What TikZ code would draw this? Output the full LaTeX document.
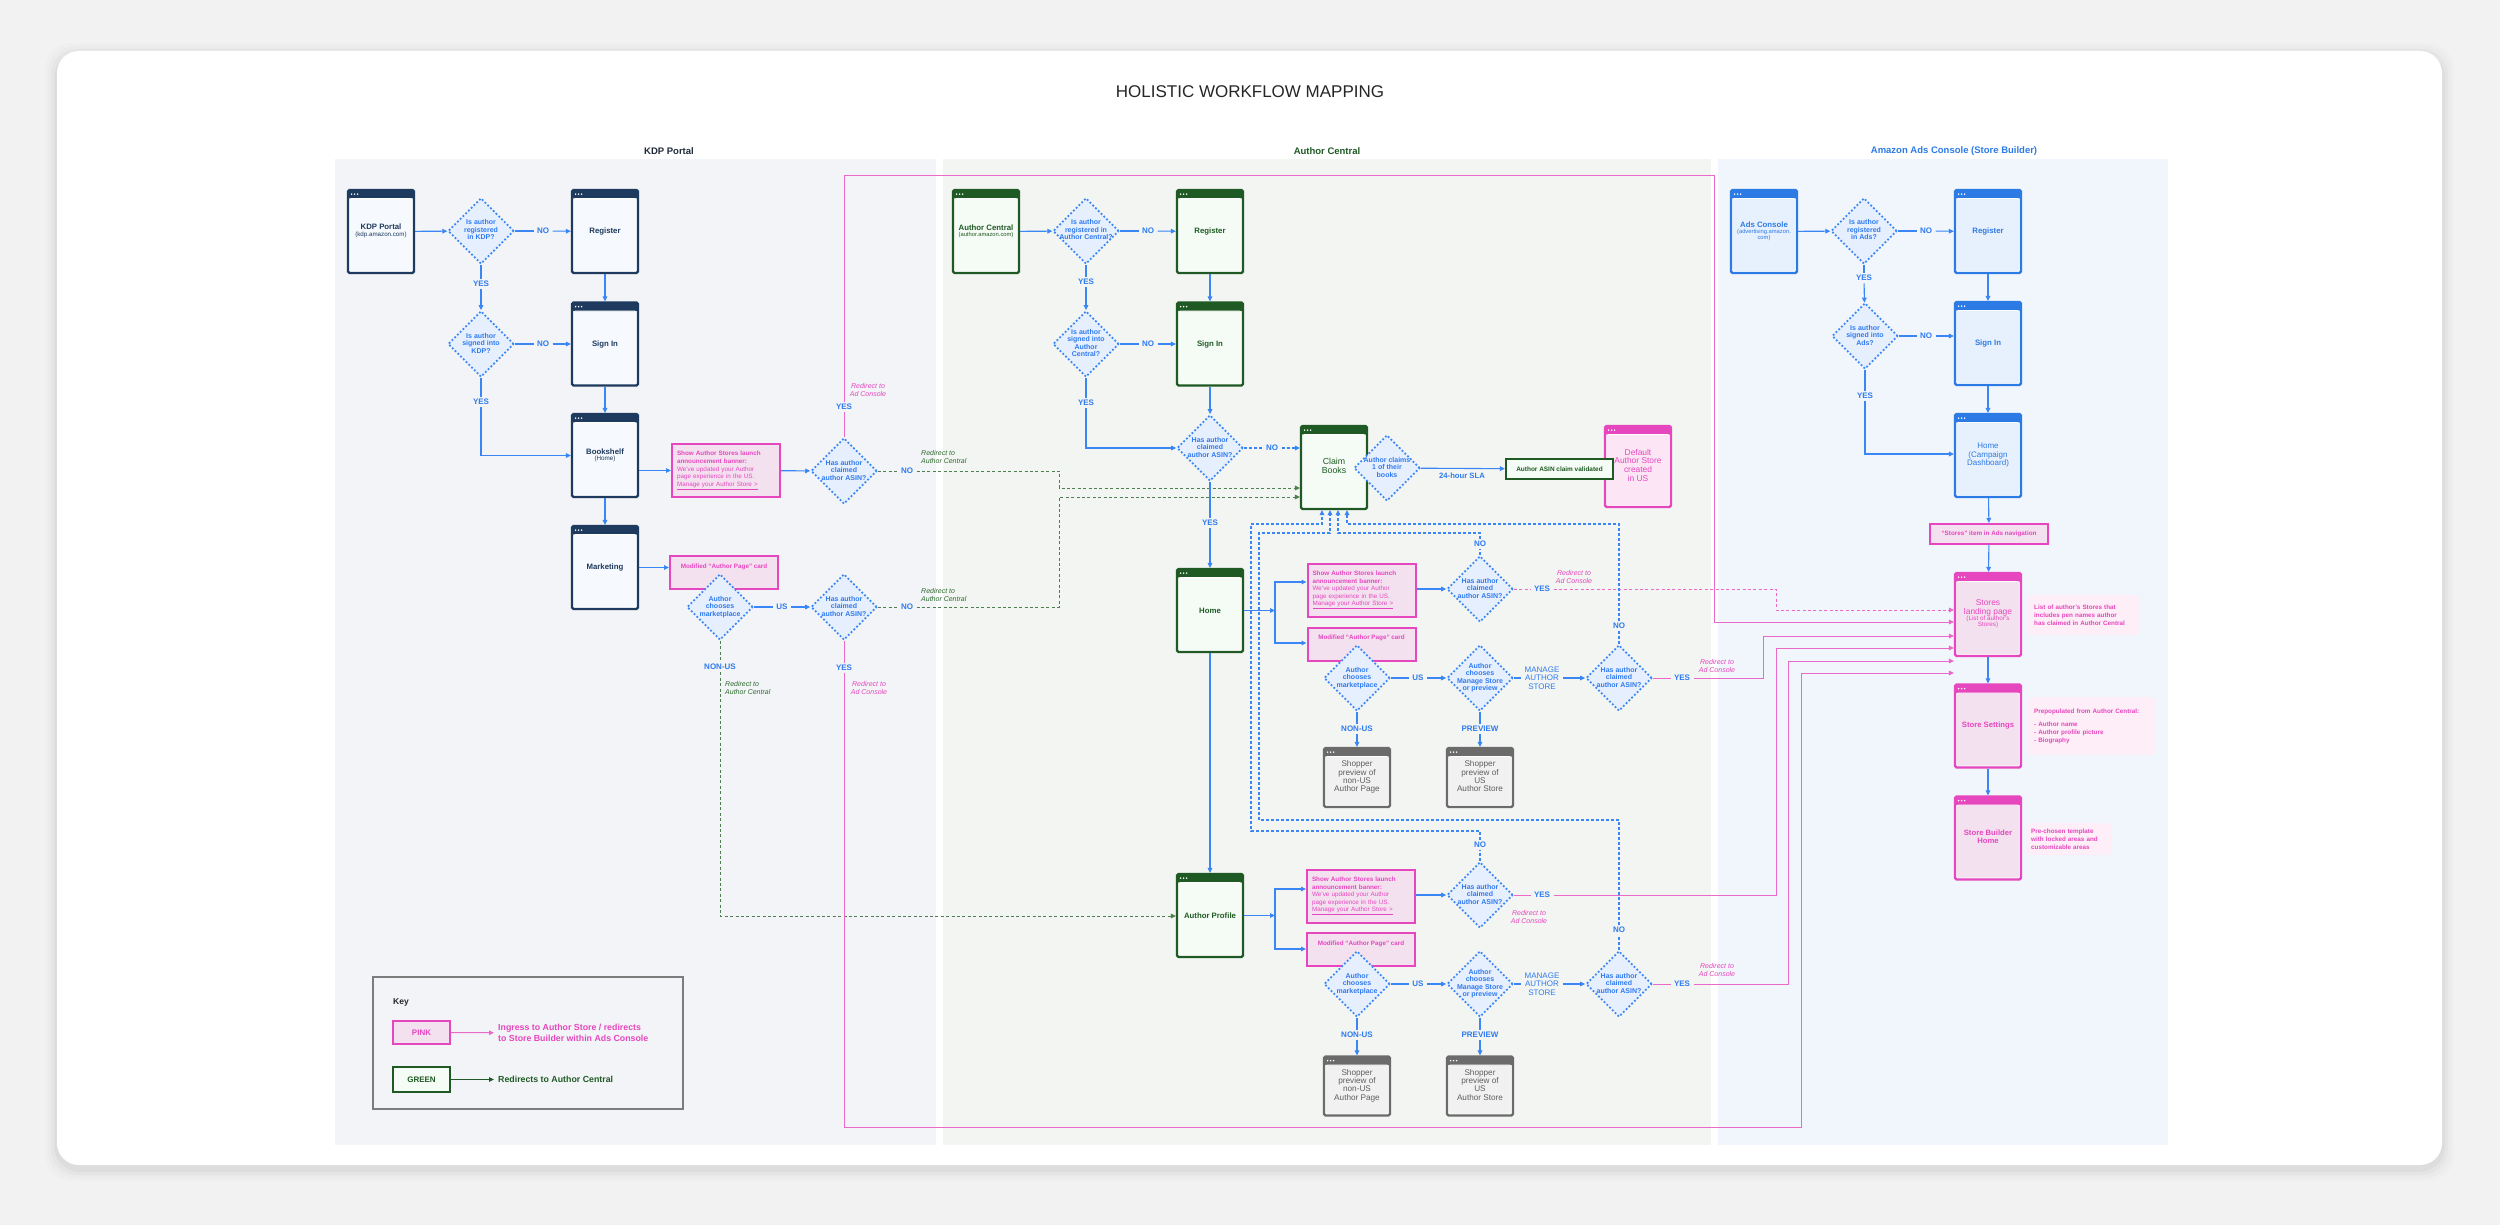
\documentclass[tikz,border=0pt]{standalone}
\usepackage{fontspec}
\setmainfont{Liberation Sans}
\usetikzlibrary{shapes.geometric,arrows.meta,calc}
\newcommand\myfs[2]{\fontsize{#1}{#2}\selectfont}
\newcommand\ml[1]{\begin{tabular}{@{}c@{}}#1\end{tabular}}
\newcommand\dt[1]{\vbox to 0pt{\vss\hbox to 0pt{\hss\begin{tabular}{@{}c@{}}#1\end{tabular}\hss}\vss}}
\definecolor{kdpnavy}{HTML}{1E3A5F}
\definecolor{kdpfill}{HTML}{F6F9FD}
\definecolor{acg}{HTML}{1F5A24}
\definecolor{acfill}{HTML}{F5FCF5}
\definecolor{adsb}{HTML}{2C7BE5}
\definecolor{adsfill}{HTML}{E7F0FD}
\definecolor{pk}{HTML}{E646BE}
\definecolor{pkfill}{HTML}{F4E1F0}
\definecolor{pklite}{HTML}{FCE6F5}
\definecolor{pknote}{HTML}{FDEEF8}
\definecolor{pkline}{HTML}{EB6AC9}
\definecolor{gy}{HTML}{6B6B6B}
\definecolor{gyfill}{HTML}{F1F1F1}
\definecolor{gytext}{HTML}{5E5E5E}
\definecolor{flowb}{HTML}{3A86F4}
\definecolor{labb}{HTML}{2F7AF0}
\definecolor{diafill}{HTML}{E6EFFD}
\definecolor{gdash}{HTML}{4E7F4E}
\definecolor{gtext}{HTML}{2F6A2F}
\definecolor{pagebg}{HTML}{F2F2F2}
\definecolor{kdppanel}{HTML}{F2F4F7}
\definecolor{acpanel}{HTML}{F2F5F2}
\definecolor{adspanel}{HTML}{F1F6FD}
\definecolor{keyline}{HTML}{7C7C7C}
\definecolor{headdark}{HTML}{1F2A3A}
\tikzset{
  hdr/.store in=\hdrcol,
  win/.style={rectangle, rounded corners=1.5pt, line width=2.2pt, draw=#1, hdr=#1,
    minimum width=66pt, minimum height=83pt, inner sep=1pt, align=center,
    path picture={\fill[fill=\hdrcol] (path picture bounding box.north west) rectangle ([yshift=-8.5pt]path picture bounding box.north east);
      \draw[white, line width=0.7pt] ([xshift=1.6pt,yshift=-8.5pt]path picture bounding box.north west) rectangle ([xshift=-1.6pt,yshift=1.6pt]path picture bounding box.south east);
      \foreach \dx in {3.6,6.6,9.6}{\fill[white] ([xshift=\dx pt,yshift=-4.2pt]path picture bounding box.north west) circle (0.85pt);}}},
  kdpw/.style={win=kdpnavy, fill=kdpfill, text=kdpnavy, font=\myfs{7.8}{9}\bfseries},
  acw/.style={win=acg, fill=acfill, text=acg, font=\myfs{7.8}{9}\bfseries},
  adsw/.style={win=adsb, fill=adsfill, text=adsb, font=\myfs{7.8}{9}\bfseries},
  pkw/.style={win=pk, fill=pkfill, text=pk, font=\myfs{7.7}{8}\bfseries},
  gyw/.style={win=gy, fill=gyfill, text=gytext, font=\myfs{8.2}{8.2}, minimum height=59pt},
  dia/.style={diamond, draw=flowb, line width=1.8pt, dash pattern=on 1.8pt off 2.1pt, fill=diafill,
    minimum width=66pt, minimum height=66pt, inner sep=0pt, text=labb, font=\myfs{7}{7.5}\bfseries},
  lbl/.style={inner xsep=3.5pt, inner ysep=2.5pt, outer sep=0pt, text=labb, font=\myfs{8}{8.3}\bfseries, align=center},
  flow/.style={draw=flowb, line width=1.1pt},
  bdash/.style={flow, dash pattern=on 3pt off 2pt},
  gd/.style={draw=gdash, line width=1pt, dash pattern=on 3pt off 2.4pt},
  pl/.style={draw=pkline, line width=1pt},
  pd/.style={pl, dash pattern=on 3pt off 2.4pt},
  banner/.style={rectangle, draw=pk, line width=2pt, fill=pkfill, text=pk, font=\myfs{6.3}{7.6},
    align=left, text width=98pt, inner xsep=5pt, inner ysep=3pt, minimum height=53pt},
  card/.style={rectangle, draw=pk, line width=2pt, fill=pkfill, text=pk, font=\myfs{6.3}{7.5}\bfseries,
    minimum width=108pt, minimum height=33pt, inner sep=0pt},
  redp/.style={text=pk, font=\myfs{7}{8}\itshape, align=center, inner sep=0pt},
  redg/.style={text=gtext, font=\myfs{7}{8}\itshape, align=left, inner sep=0pt, anchor=west},
  note/.style={fill=pknote, rounded corners=4pt, text=pk, font=\myfs{6.3}{7.7}\bfseries, align=left,
    anchor=north west, inner xsep=7pt, inner ysep=4pt},
  navbox/.style={rectangle, draw=pk, line width=2pt, fill=pkfill, text=pk, font=\myfs{6.3}{7}\bfseries,
    minimum width=118pt, minimum height=20pt, inner sep=0pt},
  valbox/.style={rectangle, draw=acg, line width=2.2pt, fill=acfill, text=acg, font=\myfs{6.45}{7}\bfseries,
    minimum width=107pt, minimum height=20pt, inner sep=0pt},
  >={Triangle[length=5pt,width=4.6pt]},
}
\begin{document}
\begin{tikzpicture}[x=1pt,y=-1pt]
\useasboundingbox (0,0) rectangle (2500,1225);
\fill[pagebg] (0,0) rectangle (2500,1225);
\foreach \s/\o in {12/0.012,9/0.016,6/0.022,3/0.03}{
  \fill[black,opacity=\o,rounded corners=26pt] (57-\s,51-\s+4) rectangle (2442+\s,1165+\s+4);}
\fill[white,rounded corners=22pt] (57,51) rectangle (2442,1165);
% panels
\fill[kdppanel] (335,159) rectangle (936,1145);
\fill[acpanel] (943,159) rectangle (1711,1145);
\fill[adspanel] (1718,159) rectangle (2168,1145);
% title and headings
\node[font=\myfs{17}{20}, text=black!85] (title) at (1250,92) {HOLISTIC WORKFLOW MAPPING};
\node[font=\myfs{9.5}{11}\bfseries, text=headdark] (hkdp) at (669,151) {KDP Portal};
\node[font=\myfs{9.5}{11}\bfseries, text=acg] (hac) at (1327,151) {Author Central};
\node[font=\myfs{9.5}{11}\bfseries, text=adsb] (hads) at (1954,151) {Amazon Ads Console (Store Builder)};

% ================= KDP =================
\node[kdpw] (kdp) at (381,231.5) {\ml{KDP Portal\\[-2pt]{\myfs{6.2}{7}\mdseries(kdp.amazon.com)}}};
\node[dia] (kq1) at (481,231) {\dt{Is author\\registered\\in KDP?}};
\node[lbl] (kno1) at (543,231) {NO};
\node[kdpw] (kreg) at (605,231.5) {Register};
\node[lbl] (kyes1) at (481,284) {YES};
\node[dia] (kq2) at (481,344) {\dt{Is author\\signed into\\KDP?}};
\node[lbl] (kno2) at (543,344) {NO};
\node[kdpw] (ksign) at (605,344) {Sign In};
\node[lbl] (kyes2) at (481,402) {YES};
\node[kdpw] (kbook) at (605,455.5) {\ml{Bookshelf\\[-2.5pt]{\myfs{6.3}{7}\mdseries(Home)}}};
\node[banner] (kban) at (726,470.5) {{\bfseries Show Author Stores launch}\\{\bfseries announcement banner:}\\We've updated your Author\\page experience in the US.\\\underline{Manage your Author Store >}};
\node[dia] (kq3) at (844,471) {\dt{Has author\\claimed\\author ASIN?}};
\node[lbl] (kno3) at (907,471) {NO};
\node[lbl] (kyes3) at (844,407) {YES};
\node[redp] (kr1) at (868,390) {Redirect to\\Ad Console};
\node[redg] (kr2) at (921,457) {Redirect to\\Author Central};
\node[kdpw] (kmkt) at (605,567.5) {Marketing};
\node[card] (kcard) at (724,572.5) {\raisebox{12pt}{Modified “Author Page” card}};
\node[dia] (kq4) at (720,607) {\dt{Author\\chooses\\marketplace}};
\node[lbl] (kus) at (782,607) {US};
\node[dia] (kq5) at (844,607) {\dt{Has author\\claimed\\author ASIN?}};
\node[lbl] (kno5) at (907,607) {NO};
\node[redg] (kr3) at (921,595) {Redirect to\\Author Central};
\node[lbl] (knonus) at (720,667) {NON-US};
\node[redg] (kr4) at (725,688) {Redirect to\\Author Central};
\node[lbl] (kyes5) at (844,668) {YES};
\node[redp] (kr5) at (869,688) {Redirect to\\Ad Console};

% ================= Author Central =================
\node[acw] (ac) at (986,231.5) {\ml{Author Central\\[-2.5pt]{\myfs{5.8}{6.5}\mdseries(author.amazon.com)}}};
\node[dia] (aq1) at (1086,231) {\dt{Is author\\registered in\\Author Central?}};
\node[lbl] (ano1) at (1148,231) {NO};
\node[acw] (areg) at (1210,231.5) {Register};
\node[lbl] (ayes1) at (1086,282) {YES};
\node[dia] (aq2) at (1086,344) {\dt{Is author\\signed into\\Author\\Central?}};
\node[lbl] (ano2) at (1148,344) {NO};
\node[acw] (asign) at (1210,344) {Sign In};
\node[lbl] (ayes2) at (1086,403) {YES};
\node[dia] (aq3) at (1210,448) {\dt{Has author\\claimed\\author ASIN?}};
\node[lbl] (ano3) at (1272,448) {NO};
\node[acw, font=\myfs{8.8}{8.4}] (aclaim) at (1334,467.5) {\ml{Claim\\Books}};
\node[dia] (aq4) at (1387,468) {\dt{Author claims\\1 of their\\books}};
\node[lbl, font=\myfs{7.7}{9}\bfseries] (asla) at (1462,476) {24-hour SLA};
\node[pkw, fill=pklite, font=\myfs{8.4}{8.4}, minimum height=81pt] (adef) at (1638,466.5) {\ml{Default\\Author Store\\created\\in US}};
\node[valbox] (aval) at (1559.5,469) {Author ASIN claim validated};
\node[lbl] (ayes3) at (1210,523) {YES};
\node[acw] (ahome) at (1210,610.5) {Home};
\node[banner] (aban1) at (1361.5,590) {{\bfseries Show Author Stores launch}\\{\bfseries announcement banner:}\\We've updated your Author\\page experience in the US.\\\underline{Manage your Author Store >}};
\node[dia] (ahq1) at (1480,589) {\dt{Has author\\claimed\\author ASIN?}};
\node[lbl] (ahno1) at (1480,544) {NO};
\node[lbl] (ahyes1) at (1542,589) {YES};
\node[redp] (ar1) at (1574,577) {Redirect to\\Ad Console};
\node[card] (acard1) at (1361.5,644) {\raisebox{13pt}{Modified “Author Page” card}};
\node[dia] (ahq2) at (1357,678) {\dt{Author\\chooses\\marketplace}};
\node[lbl] (ahus) at (1418,678) {US};
\node[dia] (ahq3) at (1480,678) {\dt{Author\\chooses\\Manage Store\\or preview}};
\node[lbl, font=\myfs{8}{8.3}] (ahman) at (1542,678) {MANAGE\\AUTHOR\\STORE};
\node[dia] (ahq4) at (1619,678) {\dt{Has author\\claimed\\author ASIN?}};
\node[lbl] (ahno2) at (1619,626) {NO};
\node[lbl] (ahyes2) at (1682,678) {YES};
\node[redp] (ar2) at (1717,666) {Redirect to\\Ad Console};
\node[lbl] (ahnonus) at (1357,729) {NON-US};
\node[lbl] (ahprev) at (1480,729) {PREVIEW};
\node[gyw] (ashop1) at (1357,777.5) {\ml{Shopper\\preview of\\non-US\\Author Page}};
\node[gyw] (ashop2) at (1480,777.5) {\ml{Shopper\\preview of\\US\\Author Store}};

\node[acw] (aprof) at (1210,915.5) {Author Profile};
\node[banner] (aban2) at (1361,896) {{\bfseries Show Author Stores launch}\\{\bfseries announcement banner:}\\We've updated your Author\\page experience in the US.\\\underline{Manage your Author Store >}};
\node[dia] (apq1) at (1480,895) {\dt{Has author\\claimed\\author ASIN?}};
\node[lbl] (apno1) at (1480,845) {NO};
\node[lbl] (apyes1) at (1542,895) {YES};
\node[redp] (ar3) at (1529,917) {Redirect to\\Ad Console};
\node[card] (acard2) at (1361,949.5) {\raisebox{12pt}{Modified “Author Page” card}};
\node[dia] (apq2) at (1357,984) {\dt{Author\\chooses\\marketplace}};
\node[lbl] (apus) at (1418,984) {US};
\node[dia] (apq3) at (1480,984) {\dt{Author\\chooses\\Manage Store\\or preview}};
\node[lbl, font=\myfs{8}{8.3}] (apman) at (1542,984) {MANAGE\\AUTHOR\\STORE};
\node[dia] (apq4) at (1619,984) {\dt{Has author\\claimed\\author ASIN?}};
\node[lbl] (apno2) at (1619,930) {NO};
\node[lbl] (apyes2) at (1682,984) {YES};
\node[redp] (ar4) at (1717,970) {Redirect to\\Ad Console};
\node[lbl] (apnonus) at (1357,1035) {NON-US};
\node[lbl] (apprev) at (1480,1035) {PREVIEW};
\node[gyw] (ashop3) at (1357,1086) {\ml{Shopper\\preview of\\non-US\\Author Page}};
\node[gyw] (ashop4) at (1480,1086) {\ml{Shopper\\preview of\\US\\Author Store}};

% ================= Ads Console =================
\node[adsw] (ads) at (1764,231.5) {\ml{Ads Console\\[-2.5pt]{\myfs{5.8}{6.5}\mdseries(advertising.amazon.}\\[-3pt]{\myfs{5.8}{6.5}\mdseries com)}}};
\node[dia] (dq1) at (1864,231) {\dt{Is author\\registered\\in Ads?}};
\node[lbl] (dno1) at (1926,231) {NO};
\node[adsw] (dreg) at (1988,231.5) {Register};
\node[lbl] (dyes1) at (1864,278) {YES};
\node[dia] (dq2) at (1865,336) {\dt{Is author\\signed into\\Ads?}};
\node[lbl] (dno2) at (1926,336) {NO};
\node[adsw] (dsign) at (1988,343.5) {Sign In};
\node[lbl] (dyes2) at (1865,396) {YES};
\node[adsw, font=\myfs{8}{8.3}] (dhome) at (1988,455.5) {\ml{Home\\(Campaign\\Dashboard)}};
\node[navbox] (dnav) at (1989,534) {“Stores” item in Ads navigation};
\node[pkw, font=\myfs{8.4}{8.2}] (dland) at (1988,614.5) {\ml{Stores\\landing page\\[-1.5pt]{\myfs{6.3}{7}(List of author's}\\[-2pt]{\myfs{6.3}{7}Stores)}}};
\node[note, text width=98pt, minimum height=40pt] (dn1) at (2027,595) {List of author's Stores that\\includes pen names author\\has claimed in Author Central};
\node[pkw] (dset) at (1988,726) {Store Settings};
\node[note, text width=114pt, minimum height=58pt] (dn2) at (2027,697) {Prepopulated from Author Central:\\[6pt]- Author name\\- Author profile picture\\- Biography};
\node[pkw] (dbuild) at (1988,838) {\ml{Store Builder\\Home}};
\node[note, text width=76pt, minimum height=32pt, inner xsep=4pt] (dn3) at (2027,823) {Pre-chosen template\\with locked areas and\\customizable areas};

% ================= connectors: KDP =================
\draw[flow,->] (kdp) -- (kq1);
\draw[flow] (kq1) -- (kno1); \draw[flow,->] (kno1) -- (kreg);
\draw[flow] (kq1) -- (kyes1); \draw[flow,->] (kyes1) -- (kq2);
\draw[flow,->] (kreg) -- (ksign);
\draw[flow] (kq2) -- (kno2); \draw[flow,->] (kno2) -- (ksign);
\draw[flow] (kq2) -- (kyes2); \draw[flow,->] (kyes2) |- (kbook);
\draw[flow,->] (ksign) -- (kbook);
\draw[flow,->] (kbook) -- (kmkt);
\draw[flow,->] (kbook.east |- kban.west) -- (kban.west);
\draw[flow,->] (kban) -- (kq3);
\draw[gd] (kq3) -- (kno3);
\draw[gd,->] (kno3) -- (1059,471) -- (1059,488) -- (aclaim.west |- 0,488);
\draw[pl] (kq3) -- (kyes3);
\draw[pl,->] (kyes3) -- (844,176) -- (1714,176) -- (1714,622) -- (dland.west |- 0,622);
\draw[flow,->] (kmkt.east) -- (kmkt.east -| kcard.west);
\draw[flow] (kq4) -- (kus); \draw[flow,->] (kus) -- (kq5);
\draw[gd] (kq5) -- (kno5);
\draw[gd,->] (kno5) -- (1059,607) -- (1059,497) -- (aclaim.west |- 0,497);
\draw[gd] (kq4) -- (knonus);
\draw[gd,->] (knonus) |- (aprof.west |- 0,916);
\draw[pl] (kq5) -- (kyes5);
\draw[pl,->] (kyes5) -- (844,1127) -- (1801,1127) -- (1801,673) -- (dland.west |- 0,673);

% ================= connectors: Author Central =================
\draw[flow,->] (ac) -- (aq1);
\draw[flow] (aq1) -- (ano1); \draw[flow,->] (ano1) -- (areg);
\draw[flow] (aq1) -- (ayes1); \draw[flow,->] (ayes1) -- (aq2);
\draw[flow,->] (areg) -- (asign);
\draw[flow] (aq2) -- (ano2); \draw[flow,->] (ano2) -- (asign);
\draw[flow] (aq2) -- (ayes2); \draw[flow,->] (ayes2) |- (aq3);
\draw[flow,->] (asign) -- (aq3);
\draw[bdash] (aq3) -- (ano3); \draw[bdash,->] (ano3) -- (ano3 -| aclaim.west);
\draw[flow,->] (aq4) -- (aval);
\draw[flow] (aq3) -- (ayes3); \draw[flow,->] (ayes3) -- (ahome);
\draw[flow,->] (ahome) -- (aprof);
\draw[flow,->] (ahome.east) -- (1275,610.5);
\draw[flow,->] (1275,610.5) |- (aban1.west |- 0,582);
\draw[flow,->] (1275,610.5) |- (acard1.west |- 0,643);
\draw[flow,->] (aban1.east |- 0,589) -- (ahq1);
\draw[bdash] (ahq1) -- (ahno1);
\draw[bdash,->] (ahno1) |- (1338,533) -- (1338,0 |- aclaim.south);
\draw[pd] (ahq1) -- (ahyes1);
\draw[pd,->] (ahyes1) -- (1776,589) -- (1776,610) -- (dland.west |- 0,610);
\draw[flow] (ahq2) -- (ahus); \draw[flow,->] (ahus) -- (ahq3);
\draw[flow] (ahq3) -- (ahman); \draw[flow,->] (ahman) -- (ahq4);
\draw[bdash] (ahq4) -- (ahno2);
\draw[bdash,->] (ahno2) |- (1347,524) -- (1347,0 |- aclaim.south);
\draw[pl] (ahq4) -- (ahyes2);
\draw[pl,->] (ahyes2) -- (1763,678) -- (1763,636) -- (dland.west |- 0,636);
\draw[flow] (ahq2) -- (ahnonus); \draw[flow,->] (ahnonus) -- (ashop1);
\draw[flow] (ahq3) -- (ahprev); \draw[flow,->] (ahprev) -- (ashop2);

\draw[flow,->] (aprof.east) -- (1275,915.5);
\draw[flow,->] (1275,915.5) |- (aban2.west |- 0,889);
\draw[flow,->] (1275,915.5) |- (acard2.west |- 0,949);
\draw[flow,->] (aban2.east |- 0,895) -- (apq1);
\draw[bdash] (apq1) -- (apno1);
\draw[bdash,->] (apno1) |- (1251,831) |- (1322,524) -- (1322,0 |- aclaim.south);
\draw[pl] (apq1) -- (apyes1);
\draw[pl,->] (apyes1) -- (1776,895) -- (1776,648) -- (dland.west |- 0,648);
\draw[flow] (apq2) -- (apus); \draw[flow,->] (apus) -- (apq3);
\draw[flow] (apq3) -- (apman); \draw[flow,->] (apman) -- (apq4);
\draw[bdash] (apq4) -- (apno2);
\draw[bdash,->] (apno2) |- (1259,820) |- (1330,533) -- (1330,0 |- aclaim.south);
\draw[pl] (apq4) -- (apyes2);
\draw[pl,->] (apyes2) -- (1788,984) -- (1788,661) -- (dland.west |- 0,661);
\draw[flow] (apq2) -- (apnonus); \draw[flow,->] (apnonus) -- (ashop3);
\draw[flow] (apq3) -- (apprev); \draw[flow,->] (apprev) -- (ashop4);

% ================= connectors: Ads =================
\draw[flow,->] (ads) -- (dq1);
\draw[flow] (dq1) -- (dno1); \draw[flow,->] (dno1) -- (dreg);
\draw[flow] (dq1) -- (dyes1); \draw[flow,->] (dyes1) -- (dq2);
\draw[flow,->] (dreg) -- (dsign);
\draw[flow] (dq2) -- (dno2); \draw[flow,->] (dno2) -- (dno2 -| dsign.west);
\draw[flow] (dq2) -- (dyes2); \draw[flow,->] (dyes2) |- (dhome.west |- 0,454);
\draw[flow,->] (dsign) -- (dhome);
\draw[flow,->] (dhome) -- (dnav);
\draw[flow,->] (dnav) -- (dland);
\draw[flow,->] (dland) -- (dset);
\draw[flow,->] (dset) -- (dbuild);

% ================= Key =================
\node[draw=keyline, line width=1.3pt, fill=kdppanel, minimum width=310pt, minimum height=132pt, inner sep=0pt] (key) at (528,1043) {};
\node[anchor=west, font=\myfs{8.5}{10}\bfseries, text=black!85, inner sep=0pt] (keyt) at (393,1002) {Key};
\node[rectangle, draw=pk, line width=2pt, fill=pkfill, minimum width=57pt, minimum height=23pt, text=pk, font=\myfs{8}{9}\bfseries] (kpink) at (421.5,1032.5) {PINK};
\node[anchor=west, text=pk, font=\myfs{8.8}{11}\bfseries, align=left, inner sep=4pt] (kpinkt) at (494,1033) {Ingress to Author Store / redirects\\to Store Builder within Ads Console};
\draw[pl,->] (kpink) -- (kpinkt);
\node[valbox, minimum width=57pt, minimum height=25pt, font=\myfs{8}{9}\bfseries] (kgreen) at (421.5,1079.5) {GREEN};
\node[anchor=west, text=acg, font=\myfs{8.8}{11}\bfseries, inner sep=4pt] (kgreent) at (494,1079.5) {Redirects to Author Central};
\draw[draw=acg, line width=1pt, ->] (kgreen) -- (kgreent);
\end{tikzpicture}
\end{document}
